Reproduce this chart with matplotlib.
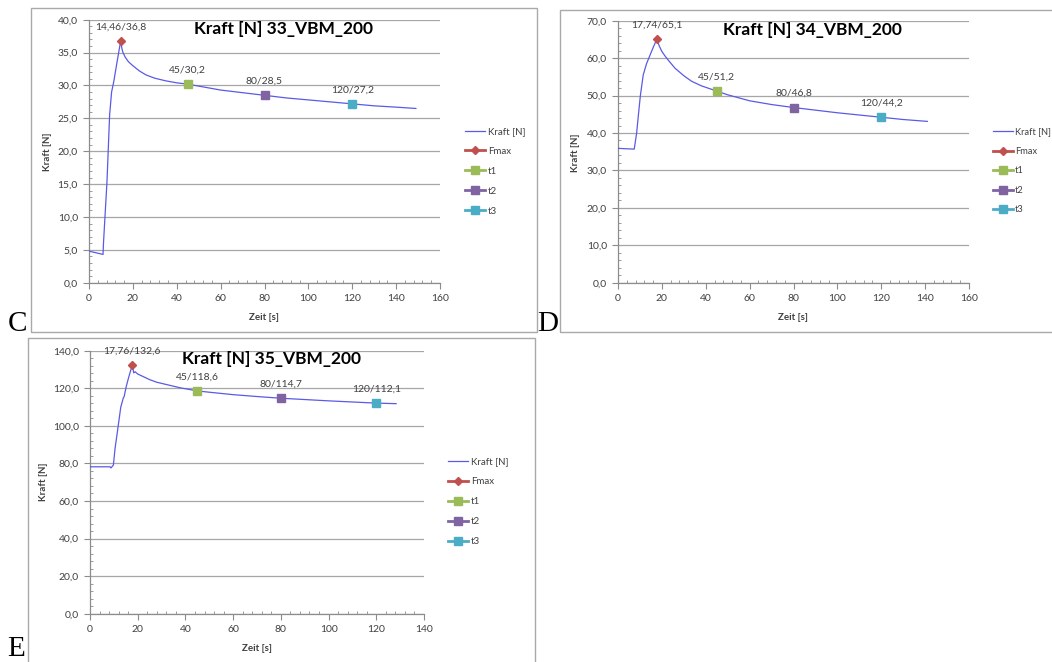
import matplotlib
matplotlib.use("Agg")
import matplotlib.pyplot as plt
from matplotlib.patches import Rectangle
from matplotlib.ticker import FuncFormatter, MultipleLocator

# ---- measured force curves -------------------------------------------------
c_time = [0, 6.4, 6.6, 8.2, 9.4, 10.3, 11.3, 12.8, 14.46, 15.0, 15.5, 16.5, 18, 20, 23, 26,
          30, 35, 40, 45, 50, 55, 60, 70, 80, 90, 100, 110, 120, 130, 140, 149]
c_force = [4.8, 4.3, 6.0, 15.4, 25.5, 29.0, 30.6, 33.6, 36.8, 35.6, 35.0, 34.3, 33.6, 33.0,
           32.2, 31.6, 31.1, 30.7, 30.4, 30.2, 29.9, 29.6, 29.3, 28.9, 28.5, 28.1, 27.8, 27.5,
           27.2, 26.9, 26.7, 26.5]

d_time = [0, 3, 7.4, 8.5, 9.3, 10.2, 11.5, 13.0, 14.6, 16.0, 17.74, 18.3, 19, 20, 21.4, 23,
          26, 30, 33.6, 38, 45, 50, 60, 70, 80, 90, 100, 110, 120, 130, 141]
d_force = [35.9, 35.8, 35.7, 40.0, 44.8, 50.0, 55.5, 58.5, 60.8, 62.8, 65.1, 64.0, 63.0, 61.8,
           60.6, 59.4, 57.3, 55.3, 53.8, 52.6, 51.2, 50.2, 48.6, 47.6, 46.8, 46.1, 45.4, 44.8,
           44.2, 43.6, 43.1]

e_time = [0, 8.4, 8.8, 9.8, 10.5, 11.5, 12.9, 14.0, 14.3, 15.2, 16.1, 17.76, 18.3, 18.9, 20,
          22, 25, 28, 32, 38, 45, 50, 60, 70, 80, 90, 100, 110, 120, 128.3]
e_force = [78.2, 78.2, 77.6, 79.1, 88.0, 97.0, 110.0, 115.0, 115.5, 121.0, 125.3, 132.6, 128.2,
           128.8, 127.6, 126.4, 124.6, 123.2, 122.0, 120.2, 118.6, 117.9, 116.6, 115.6, 114.7,
           114.0, 113.3, 112.7, 112.1, 111.8]

# ---- characteristic points ---------------------------------------------------
c_fmax = (14.46, 36.8)
d_fmax = (17.74, 65.1)
e_fmax = (17.76, 132.6)

t_points = [45, 80, 120]
c_tvals = [30.2, 28.5, 27.2]
d_tvals = [51.2, 46.8, 44.2]
e_tvals = [118.6, 114.7, 112.1]

series_names = ["Kraft [N]", "Fmax", "t1", "t2", "t3"]
titles = ["Kraft [N] 33_VBM_200", "Kraft [N] 34_VBM_200", "Kraft [N] 35_VBM_200"]
panel_letters = ["C", "D", "E"]

# ---- figure ------------------------------------------------------------------
W, H = 1052, 662
fig = plt.figure(figsize=(W / 100, H / 100), dpi=100)
fig.patch.set_facecolor("white")
plt.rcParams["font.family"] = ["Lato", "DejaVu Sans"]

LINE = "#5a5ae6"
RED = "#c0504d"
GREEN = "#9bbb59"
PURPLE = "#8064a2"
CYAN = "#4bacc6"
AXIS = "#8c8c8c"
GRID = "#a6a6a6"
TXT = "#404040"


def fx(x):
    return x / W


def fy(y):
    return 1 - y / H


def num(v):
    return ("%g" % v).replace(".", ",")


def frame(l, t, r, b):
    fig.patches.append(Rectangle((fx(l), fy(b)), fx(r - l), (b - t) / H,
                                 transform=fig.transFigure, fill=False,
                                 edgecolor="#a9a9a9", lw=1.0, zorder=0))


def panel(box, ax_px, title_xy, xmax, ymax, ymaj, ymin_step, xmin_step,
          time, force, fmax, tvals, title, legend_xy, ylab_xy, xlab_xy, legend_size=7):
    frame(*box)
    l, t, r, b = ax_px
    ax = fig.add_axes([fx(l), fy(b), fx(r - l), (b - t) / H])
    ax.set_xlim(0, xmax)
    ax.set_ylim(0, ymax)
    ax.xaxis.set_major_locator(MultipleLocator(20))
    ax.xaxis.set_minor_locator(MultipleLocator(xmin_step))
    ax.yaxis.set_major_locator(MultipleLocator(ymaj))
    ax.yaxis.set_minor_locator(MultipleLocator(ymin_step))
    ax.yaxis.set_major_formatter(FuncFormatter(lambda v, p: ("%.1f" % v).replace(".", ",")))
    ax.xaxis.set_major_formatter(FuncFormatter(lambda v, p: "%d" % v))
    ax.tick_params(which="major", direction="out", length=4, width=0.8, color=AXIS,
                   labelsize=7.5, labelcolor=TXT, pad=4)
    ax.tick_params(which="minor", direction="in", length=2.5, width=0.6, color=AXIS)
    for s in ("top", "right"):
        ax.spines[s].set_visible(False)
    for s in ("left", "bottom"):
        ax.spines[s].set_color(AXIS)
        ax.spines[s].set_linewidth(0.9)
    ax.yaxis.grid(True, color=GRID, lw=0.9)
    ax.set_axisbelow(True)

    ax.plot(time, force, color=LINE, lw=0.9, label=series_names[0], zorder=3)
    ax.plot([fmax[0]], [fmax[1]], color=RED, marker="D", ms=4.5, lw=2,
            label=series_names[1], zorder=4, clip_on=False)
    for tx, tv, col, name in zip(t_points, tvals, [GREEN, PURPLE, CYAN], series_names[2:]):
        ax.plot([tx], [tv], color=col, marker="s", ms=6, lw=2, label=name, zorder=4)
        ax.annotate(f"{num(tx)}/{num(tv)}", (tx, tv), xytext=(0, 10),
                    textcoords="offset points", ha="center", va="center",
                    fontsize=7.5, color=TXT)
    ax.annotate(f"{num(fmax[0])}/{num(fmax[1])}", fmax, xytext=(0, 10),
                textcoords="offset points", ha="center", va="center",
                fontsize=7.5, color=TXT, annotation_clip=False)

    ax.set_xlabel("Zeit [s]", fontsize=7, fontweight="bold", color=TXT)
    ax.set_ylabel("Kraft [N]", fontsize=7, fontweight="bold", color=TXT)
    ax.xaxis.set_label_coords((xlab_xy[0] - l) / (r - l), (b - xlab_xy[1]) / (b - t))
    ax.yaxis.set_label_coords((ylab_xy[0] - l) / (r - l), (b - ylab_xy[1]) / (b - t))

    fig.text(fx(title_xy[0]), fy(title_xy[1]), title, ha="center", va="center",
             fontsize=12.5, fontweight="bold", color="black")

    ax.legend(loc="upper left", bbox_to_anchor=(fx(legend_xy[0]), fy(legend_xy[1])),
              bbox_transform=fig.transFigure, frameon=False, fontsize=legend_size,
              handlelength=2.1, handletextpad=0.25, labelspacing=1.12,
              borderpad=0, borderaxespad=0, labelcolor=TXT)
    return ax


panel(box=(31, 8, 537, 332), ax_px=(89, 19.7, 440, 282.7), title_xy=(283, 29),
      xmax=160, ymax=40, ymaj=5, ymin_step=1, xmin_step=4,
      time=c_time, force=c_force, fmax=c_fmax, tvals=c_tvals, title=titles[0],
      legend_xy=(465, 127), ylab_xy=(51.5, 152), xlab_xy=(264, 313))

panel(box=(560, 10, 1060, 332), ax_px=(618, 20.7, 969, 282.7), title_xy=(812, 30),
      xmax=160, ymax=70, ymaj=10, ymin_step=2, xmin_step=4,
      time=d_time, force=d_force, fmax=d_fmax, tvals=d_tvals, title=titles[1],
      legend_xy=(993, 127.5), ylab_xy=(580.5, 152.5), xlab_xy=(793, 313), legend_size=6.7)

panel(box=(28, 338, 535, 670), ax_px=(90, 350.7, 424, 613.7), title_xy=(272, 359),
      xmax=140, ymax=140, ymaj=20, ymin_step=4, xmin_step=4,
      time=e_time, force=e_force, fmax=e_fmax, tvals=e_tvals, title=titles[2],
      legend_xy=(448, 457.5), ylab_xy=(48, 482), xlab_xy=(257, 644))

# panel letters
fig.text(fx(8), fy(331), panel_letters[0], ha="left", va="baseline", fontsize=21,
         family="Liberation Serif", color="black")
fig.text(fx(537), fy(331), panel_letters[1], ha="left", va="baseline", fontsize=21,
         family="Liberation Serif", color="black")
fig.text(fx(7), fy(661.5), panel_letters[2], ha="left", va="bottom", fontsize=21,
         family="Liberation Serif", color="black")

fig.savefig("out.png", dpi=100, facecolor="white")
